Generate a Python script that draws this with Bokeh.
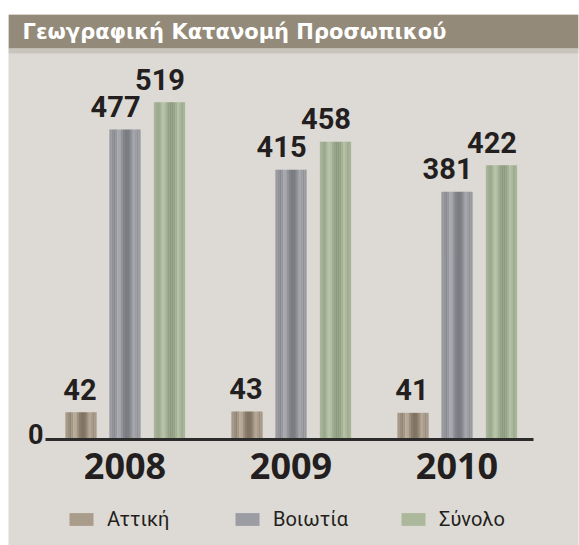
from bokeh.plotting import figure
from bokeh.models import Range1d, Legend, LegendItem, Label, BoxAnnotation
from bokeh.core.properties import value
from bokeh.embed import file_html
from bokeh.resources import INLINE

# ---------------- data ----------------
title_text = "Γεωγραφική Κατανομή Προσωπικού"
years = ["2008", "2009", "2010"]
series_names = ["Αττική", "Βοιωτία", "Σύνολο"]
attiki = [42, 43, 41]
voiotia = [477, 415, 381]
synolo = [519, 458, 422]
zero_label = "0"

# ---------------- style ----------------
BG = "#dddad5"
BAR_DARK = ["#7b6d5c", "#75777d", "#869679"]
BAR_LIGHT = ["#c4b6a4", "#b0b2b7", "#bfcaad"]
offsets = [-0.265, 0.0, 0.268]
BAR_W = 0.187
profile = [0.6, 0.45, 0.32, 0.55, 0.85, 0.78, 0.48, 0.22, 0.1, 0.1, 0.22, 0.5, 0.8, 0.65, 0.45, 0.6]
NUM_FONT = "Roboto"
TXT = "#231f20"

# layout geometry (pixels) -> the frame is the whole grey card
W, H = 579, 545
CARD_L, CARD_T, CARD_R = 8, 14, 578
PX_PER_GROUP = 166.0       # horizontal pixels per year group
PX_PER_UNIT = 0.65         # vertical pixels per employee
GROUP0_PX = 124.5          # pixel x of first group centre
ZERO_PX = 439.0            # pixel y of the zero line


def px_x(px):
    return (px - GROUP0_PX) / PX_PER_GROUP


def px_y(py):
    return (ZERO_PX - py) / PX_PER_UNIT


def mix(c1, c2, t):
    a = [int(c1[i:i + 2], 16) for i in (1, 3, 5)]
    b = [int(c2[i:i + 2], 16) for i in (1, 3, 5)]
    return "#%02x%02x%02x" % tuple(round(a[k] + (b[k] - a[k]) * t) for k in range(3))


p = figure(width=W, height=H, x_range=Range1d(px_x(CARD_L), px_x(CARD_R)),
           y_range=Range1d(px_y(H), px_y(CARD_T)),
           toolbar_location=None, output_backend="svg",
           min_border_top=CARD_T, min_border_left=CARD_L, min_border_right=W - CARD_R,
           min_border_bottom=0, x_axis_location=None, y_axis_location=None)
p.background_fill_color = BG
p.border_fill_color = "white"
p.outline_line_color = None
p.xgrid.visible = False
p.ygrid.visible = False

# title strip
p.add_layout(BoxAnnotation(bottom=px_y(48), fill_color="#938a79", fill_alpha=1, line_color=None))
p.add_layout(BoxAnnotation(bottom=px_y(53), top=px_y(48), fill_color="#c9c5bd", fill_alpha=1,
                           line_color=None))
p.add_layout(Label(x=px_x(22), y=px_y(31), text=title_text,
                   text_baseline="middle", text_color="white",
                   text_font="DejaVu Sans", text_font_style="bold", text_font_size="21px"))

xs = list(range(len(years)))
all_series = [attiki, voiotia, synolo]
legend_items = []
N = len(profile)
for s, vals in enumerate(all_series):
    sw = BAR_W / N
    rs = []
    for j, t in enumerate(profile):
        rs.append(p.vbar(x=[i + offsets[s] - BAR_W / 2 + (j + 0.5) * sw for i in xs], top=vals,
                         width=sw * 1.12, bottom=0,
                         fill_color=mix(BAR_DARK[s], BAR_LIGHT[s], t), line_color=None))
    p.text(x=[i + offsets[s] + BAR_W / 2 for i in xs], y=vals, text=[str(v) for v in vals],
           text_align="right", text_baseline="middle", y_offset=-23,
           text_font=value(NUM_FONT), text_font_style="bold", text_font_size="29px",
           text_color=TXT)
    legend_items.append(LegendItem(label=series_names[s], renderers=[rs[13]]))

# zero baseline (axis line) from just left of first group to right of last
base_x0 = xs[0] + px_x(45)
base_x1 = xs[-1] + px_x(533) - 2
p.segment(x0=[base_x0], y0=[0], x1=[base_x1], y1=[0], line_color="#2b2b2b", line_width=3)
p.text(x=[base_x0], y=[0], text=[zero_label], text_align="right", text_baseline="middle",
       x_offset=-2, y_offset=-6, text_font=value(NUM_FONT), text_font_style="bold",
       text_font_size="27px", text_color=TXT)

# year labels under the baseline
p.text(x=xs, y=[0] * len(xs), text=years, text_align="center",
       text_baseline="middle", y_offset=26, text_font=value("Open Sans"),
       text_font_style="bold", text_font_size="36px", text_color=TXT)

legend = Legend(items=legend_items, orientation="horizontal", location=(58, 14),
                glyph_width=30, glyph_height=16, label_standoff=11, label_width=125,
                spacing=0, padding=0, margin=0,
                label_text_font="Roboto", label_text_font_size="20px", label_text_color=TXT,
                background_fill_alpha=0, border_line_color=None)
p.add_layout(legend, "center")

open("out.html", "w").write(file_html(p, INLINE))
